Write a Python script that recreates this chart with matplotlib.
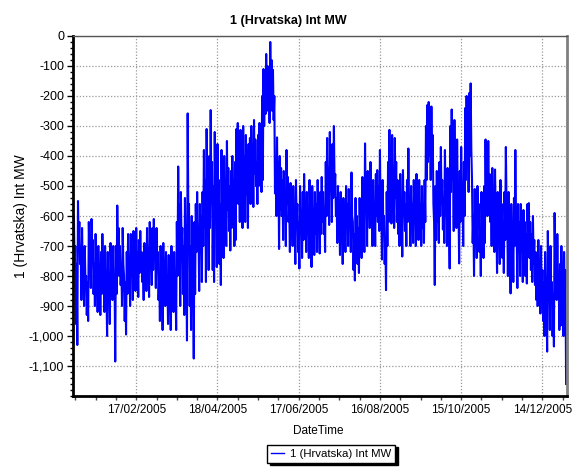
import numpy as np
import pandas as pd
import matplotlib
matplotlib.use("Agg")
import matplotlib.pyplot as plt
import matplotlib.dates as mdates
from matplotlib.ticker import MultipleLocator, FixedLocator, FuncFormatter

plt.rcParams["font.family"] = ["Liberation Sans", "DejaVu Sans"]

# values, two per day (12 h apart), MW
jan = [-480, -650, -600, -780, -700, -960, -760, -1030, -550, -700,
       -620, -760, -700, -880, -640, -770, -760, -900, -700, -820,
       -800, -930, -820, -950, -620, -740, -700, -840, -610, -720,
       -680, -860, -760, -900, -660, -780, -780, -920, -700, -830,
       -760, -930, -720, -860, -660, -780, -760, -920, -700, -820,
       -850, -1000, -720, -850, -800, -960, -690, -800, -740, -880,
       -700, -840]
feb = [-800, -1085, -700, -860, -565, -720, -640, -800, -700, -830,
       -760, -900, -640, -760, -800, -950, -820, -995, -720, -860,
       -660, -780, -760, -900, -660, -790, -720, -880, -650, -770,
       -730, -850, -640, -780, -720, -870, -680, -790, -650, -760,
       -720, -820, -760, -880, -690, -790, -720, -850, -640, -760,
       -740, -870, -620, -750, -700, -830]
mar = [-640, -780, -610, -740, -700, -840, -640, -760, -720, -880,
       -800, -950, -700, -860, -820, -980, -690, -820, -760, -900,
       -720, -860, -800, -960, -730, -880, -850, -980, -700, -830,
       -780, -920, -720, -860, -820, -980, -620, -800, -435, -650,
       -560, -900, -520, -700, -640, -860, -700, -930, -540, -760,
       -780, -1015, -258, -600, -560, -900, -700, -980, -600, -800,
       -820, -1075]
apr = [-620, -860, -560, -720, -520, -700, -640, -850, -560, -720,
       -600, -820, -520, -700, -380, -640, -480, -820, -310, -560,
       -420, -780, -400, -640, -247, -560, -420, -780, -500, -820,
       -320, -600, -450, -770, -360, -600, -480, -760, -560, -830,
       -380, -620, -460, -740, -400, -640, -480, -700, -350, -580,
       -440, -650, -500, -715, -450, -640, -400, -600, -480, -700]
may = [-420, -680, -310, -520, -290, -560, -380, -620, -313, -520,
       -400, -640, -300, -500, -400, -620, -330, -530, -380, -640,
       -360, -520, -340, -560, -300, -480, -380, -570, -280, -460,
       -345, -500, -420, -560, -330, -500, -290, -460, -350, -520,
       -200, -480, -110, -300, -150, -260, -60, -240, -100, -250,
       -130, -290, -20, -200, -80, -250, -113, -280, -200, -525,
       -420, -600]
jun = [-338, -560, -420, -710, -400, -580, -440, -600, -480, -680,
       -450, -600, -520, -700, -380, -560, -470, -620, -560, -720,
       -490, -640, -540, -700, -500, -640, -600, -760, -480, -620,
       -560, -720, -620, -775, -500, -660, -580, -740, -520, -680,
       -460, -600, -560, -720, -520, -660, -600, -740, -480, -640,
       -620, -770, -500, -660, -580, -730, -520, -660, -560, -720]
jul = [-480, -640, -560, -725, -520, -660, -470, -620, -520, -660,
       -580, -720, -420, -600, -340, -560, -440, -630, -320, -500,
       -420, -620, -360, -540, -300, -500, -460, -600, -540, -690,
       -500, -630, -600, -730, -520, -660, -620, -760, -540, -690,
       -580, -720, -500, -640, -560, -700, -510, -640, -580, -720,
       -455, -600, -620, -780, -660, -815, -540, -700, -600, -760,
       -640, -790]
aug = [-540, -680, -600, -740, -470, -620, -560, -720, -358, -560,
       -500, -700, -450, -600, -500, -640, -420, -580, -540, -700,
       -480, -620, -560, -700, -460, -600, -447, -620, -500, -650,
       -380, -600, -560, -745, -480, -640, -600, -760, -680, -847,
       -520, -700, -420, -620, -313, -520, -420, -625, -330, -520,
       -440, -640, -340, -540, -420, -620, -480, -660, -560, -700,
       -460, -620]
sep = [-580, -735, -447, -600, -520, -650, -560, -700, -480, -620,
       -375, -580, -540, -700, -500, -640, -560, -690, -480, -620,
       -560, -700, -460, -600, -513, -680, -480, -620, -560, -700,
       -500, -640, -560, -690, -480, -620, -300, -480, -230, -420,
       -220, -400, -300, -480, -235, -420, -330, -560, -620, -830,
       -500, -680, -450, -620, -540, -690, -420, -600, -370, -560]
octo = [-480, -645, -540, -690, -380, -560, -520, -700, -440, -600,
        -600, -775, -300, -520, -245, -480, -400, -650, -280, -500,
        -420, -640, -345, -560, -560, -758, -450, -620, -370, -560,
        -500, -700, -420, -600, -240, -480, -200, -420, -300, -520,
        -190, -400, -158, -380, -480, -690, -600, -800, -510, -660,
        -580, -740, -500, -640, -560, -720, -640, -800, -520, -660,
        -580, -740]
nov = [-500, -690, -345, -560, -420, -600, -350, -540, -460, -620,
       -520, -700, -440, -620, -560, -720, -445, -600, -620, -790,
       -520, -680, -580, -760, -480, -640, -560, -740, -620, -790,
       -520, -680, -370, -560, -600, -800, -520, -680, -680, -858,
       -560, -720, -640, -820, -540, -700, -380, -600, -660, -840,
       -560, -720, -620, -800, -560, -720, -640, -820, -580, -740]
dec = [-620, -800, -660, -825, -560, -720, -557, -740, -620, -780,
       -660, -820, -600, -760, -680, -830, -720, -880, -740, -900,
       -680, -840, -760, -925, -700, -860, -780, -950, -820, -1000,
       -720, -880, -880, -1052, -650, -820, -780, -980, -700, -880,
       -820, -1000, -860, -1035, -590, -780, -720, -880, -660, -820,
       -800, -980, -760, -965, -700, -860, -800, -1000, -720, -880,
       -780, -1160]

label = "1 (Hrvatska) Int MW"
major_dates = ["2005-02-17", "2005-04-18", "2005-06-17",
               "2005-08-16", "2005-10-15", "2005-12-14"]

values = np.concatenate([jan, feb, mar, apr, may, jun, jul, aug, sep, octo, nov, dec])
times = pd.date_range("2005-01-01", periods=len(values), freq="12h")

fig = plt.figure(figsize=(5.76, 4.71), dpi=100)
ax = fig.add_axes([0.126, 0.1592, 0.858, 0.7644])

ax.plot(times, values, color="#0000FF", lw=1.5, label=label)

ax.set_ylim(-1200, 0)
ax.set_xlim(pd.Timestamp("2005-01-01"), pd.Timestamp("2006-01-01"))

ax.yaxis.set_major_locator(FixedLocator(np.arange(-1100, 1, 100)))
ax.yaxis.set_minor_locator(MultipleLocator(20))
ax.yaxis.set_major_formatter(FuncFormatter(lambda v, p: f"{v:,.0f}"))

maj = [pd.Timestamp(d) for d in major_dates]
ax.xaxis.set_major_locator(FixedLocator(mdates.date2num(maj)))
minor = pd.date_range("2005-01-03", "2005-12-31", freq="15D")
ax.xaxis.set_minor_locator(FixedLocator(mdates.date2num(minor)))
ax.xaxis.set_major_formatter(mdates.DateFormatter("%d/%m/%Y"))

ax.grid(True, which="major", color="#999999", linestyle=(0, (1, 1.5)), linewidth=0.9)

for s in ["left", "bottom"]:
    ax.spines[s].set_linewidth(2)
    ax.spines[s].set_color("black")
ax.spines["top"].set_color("#555555")
ax.spines["top"].set_linewidth(1)
ax.spines["right"].set_color("#808080")
ax.spines["right"].set_linewidth(2)

ax.tick_params(axis="y", which="major", length=4, width=1, pad=2, labelsize=9)
ax.tick_params(axis="y", which="minor", length=2.5, width=1)
ax.tick_params(axis="x", which="major", length=3, width=1, pad=3, labelsize=8.5, color="#444444")
ax.tick_params(axis="x", which="minor", length=3, width=1, color="#444444")

fig.text(0.5, 0.955, label, ha="center", va="center", fontsize=9, fontweight="bold")
fig.text(318 / 576, 1 - 431 / 471, "DateTime", ha="center", va="center", fontsize=8.5)
fig.text(21 / 576, 1 - 216 / 471, label, ha="center", va="center", rotation=90, fontsize=10)

leg = fig.legend(loc="center", bbox_to_anchor=(0.575, 0.037), fontsize=8.2,
                 frameon=True, fancybox=False, handlelength=1.1, handletextpad=0.5,
                 borderpad=0.35, shadow={"color": "black", "alpha": 1})
leg.get_frame().set_edgecolor("black")
leg.get_frame().set_linewidth(1)
for h in leg.get_lines():
    h.set_linewidth(1.0)

fig.savefig("out.png", dpi=100)
